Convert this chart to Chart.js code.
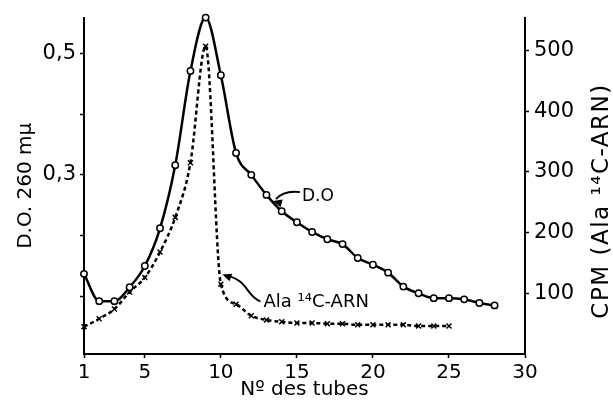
<!DOCTYPE html>
<html>
<head>
<meta charset="utf-8">
<script src="https://cdn.jsdelivr.net/npm/chart.js@4"></script>
<style>
    body { margin: 0; background: #fff; }
    canvas { display: block; }
</style>
</head>
<body>
<canvas id="myChart" width="613" height="411"></canvas>
<script>
// D.O. 260 mμ (axe gauche), tubes 1 a 28
var tubesDO = [1,2,3,4,5,6,7,8,9,10,11,12,13,14,15,16,17,18,19,20,21,22,23,24,25,26,27,28];
var valeursDO = [0.137,0.092,0.092,0.115,0.150,0.212,0.316,0.471,0.559,0.464,0.336,0.300,0.267,0.240,
                 0.222,0.206,0.194,0.186,0.163,0.152,0.139,0.116,0.105,0.097,0.097,0.095,0.089,0.085];

// CPM Ala 14C-ARN (axe droit), tubes 1 a 25
var tubesARN = [1,2,3,4,5,6,7,8,9,10,11,12,13,14,15,16,17,18,19,20,21,22,23,24,25];
var valeursARN = [45,58,74,102,126,168,225,315,507,115,82,63,56,53,51,51,50,50,48,48,48,48,46,46,46];

var ticksX = [1,5,10,15,20,25,30];
var ticksDO = [0.1,0.2,0.3,0.4,0.5];
var labelsDO = ['','','0,3','','0,5'];
var ticksCPM = [100,200,300,400,500];

var police = "'DejaVu Sans', sans-serif";

function points(xs, ys) {
    return xs.map(function(x, i) { return {x: x, y: ys[i]}; });
}

function fleche(c, x, y, ang) {
    c.save();
    c.translate(x, y);
    c.rotate(ang);
    c.beginPath();
    c.moveTo(0, 0);
    c.lineTo(9, -4);
    c.lineTo(9, 4);
    c.closePath();
    c.fill();
    c.restore();
}

var annotations = {
    id: 'annotations',
    afterDraw: function(chart) {
        var c = chart.ctx;
        var sx = chart.scales.x, sy = chart.scales.yDO;
        c.save();
        c.fillStyle = '#000';

        // titre axe droit, lu de bas en haut
        c.font = "23px " + police;
        c.letterSpacing = '1.5px';
        c.textAlign = 'center';
        c.textBaseline = 'middle';
        c.translate(602, 201);
        c.rotate(-Math.PI / 2);
        c.fillText('CPM (Ala ¹⁴C-ARN)', 0, 0);
        c.restore();

        c.save();
        c.fillStyle = '#000';
        c.strokeStyle = '#000';
        c.lineWidth = 2;
        c.textAlign = 'left';
        c.textBaseline = 'middle';

        // D.O
        var x0 = sx.getPixelForValue(15.2), y0 = sy.getPixelForValue(0.265);
        c.font = "17px " + police;
        c.fillText('D.O', x0 + 2, y0);
        c.beginPath();
        c.moveTo(x0, y0 - 4);
        c.quadraticCurveTo(x0 - 16, y0 - 6, x0 - 24, y0 + 3);
        c.stroke();
        fleche(c, x0 - 27, y0 + 5, Math.atan2(-8, 5) + Math.PI / 2 - 0.3);

        // Ala 14C-ARN
        var x1 = sx.getPixelForValue(12.6), y1 = sy.getPixelForValue(0.09);
        c.font = "18px " + police;
        c.fillText('Ala ¹⁴C-ARN', x1 + 3, y1);
        c.beginPath();
        c.moveTo(x1, y1 - 1);
        c.bezierCurveTo(x1 - 14, y1 - 6, x1 - 12, y1 - 22, x1 - 34, y1 - 27);
        c.stroke();
        fleche(c, x1 - 38, y1 - 28, 0.35);
        c.restore();
    }
};

document.addEventListener("DOMContentLoaded", function() {

    var ctx = document.getElementById('myChart');
    var myChart = new Chart(ctx, {
        type: 'line',
        data: {
            datasets: [{
                label: 'D.O',
                data: points(tubesDO, valeursDO),
                yAxisID: 'yDO',
                borderColor: '#000',
                borderWidth: 2.5,
                cubicInterpolationMode: 'monotone',
                pointStyle: 'circle',
                pointRadius: 3.2,
                pointBorderWidth: 1.5,
                pointBackgroundColor: '#fff',
                pointBorderColor: '#000',
                clip: false
            },
            {
                label: 'Ala 14C-ARN',
                data: points(tubesARN, valeursARN),
                yAxisID: 'yCPM',
                borderColor: '#000',
                borderWidth: 2.5,
                borderDash: [4, 3],
                cubicInterpolationMode: 'monotone',
                pointStyle: 'crossRot',
                pointRadius: 3.5,
                pointBorderWidth: 1.5,
                pointBorderColor: '#000',
                clip: false
            }]
        },
        options: {
            responsive: false,
            animation: false,
            layout: { padding: { top: 14 } },
            plugins: {
                legend: { display: false },
                tooltip: { enabled: false }
            },
            scales: {
                x: {
                    type: 'linear',
                    min: 1,
                    max: 30,
                    afterBuildTicks: function(scale) {
                        scale.ticks = ticksX.map(function(v) { return {value: v}; });
                    },
                    afterFit: function(scale) { scale.height = 57; },
                    grid: { drawOnChartArea: false, tickLength: 4, tickColor: '#000', tickWidth: 1.5 },
                    border: { color: '#000', width: 2 },
                    ticks: {
                        color: '#000',
                        padding: 3,
                        maxRotation: 0,
                        font: { family: police, size: 20 }
                    },
                    title: {
                        display: true,
                        text: 'Nº des tubes',
                        color: '#000',
                        padding: { top: 0, bottom: 9 },
                        font: { family: police, size: 20 }
                    }
                },
                yDO: {
                    position: 'left',
                    min: 0.005,
                    max: 0.559,
                    afterBuildTicks: function(scale) {
                        scale.ticks = ticksDO.map(function(v) { return {value: v}; });
                    },
                    afterFit: function(scale) { scale.width = 84; },
                    grid: { drawOnChartArea: false, tickLength: 4, tickColor: '#000', tickWidth: 1.5 },
                    border: { color: '#000', width: 2 },
                    ticks: {
                        color: '#000',
                        padding: 4,
                        font: { family: police, size: 21 },
                        callback: function(v, i) { return labelsDO[i]; }
                    },
                    title: {
                        display: true,
                        text: 'D.O. 260 mμ',
                        color: '#000',
                        padding: { top: 14, bottom: 0 },
                        font: { family: police, size: 20 }
                    }
                },
                yCPM: {
                    position: 'right',
                    min: 0,
                    max: 554,
                    afterBuildTicks: function(scale) {
                        scale.ticks = ticksCPM.map(function(v) { return {value: v}; });
                    },
                    afterFit: function(scale) { scale.width = 88; },
                    grid: { drawOnChartArea: false, tickLength: 4, tickColor: '#000', tickWidth: 1.5 },
                    border: { color: '#000', width: 2 },
                    ticks: {
                        color: '#000',
                        padding: 5,
                        font: { family: police, size: 21 }
                    }
                }
            }
        },
        plugins: [annotations]
    });

})
</script>
</body>
</html>
